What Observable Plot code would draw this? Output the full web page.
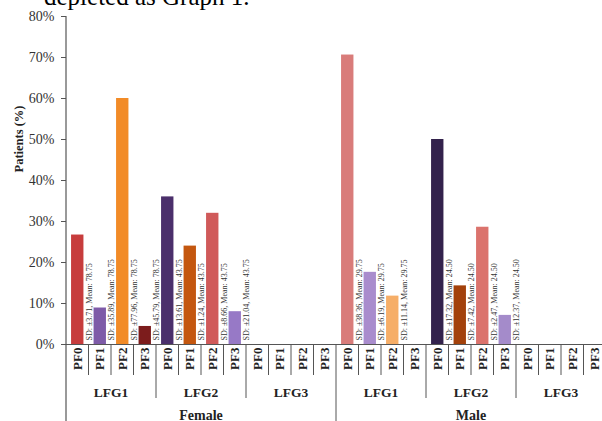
<!DOCTYPE html>
<html>
<head>
<meta charset="utf-8">
<script src="https://cdn.jsdelivr.net/npm/d3@7"></script>
<script src="https://cdn.jsdelivr.net/npm/@observablehq/plot@0.6"></script>
<style>
  html, body { margin: 0; padding: 0; background: #fff; }
  #wrap { position: relative; width: 602px; height: 421px; overflow: hidden; }
  #intro { position: absolute; left: 44px; top: -16px; font: 25px/25px "Liberation Serif", serif; color: #000; white-space: nowrap; z-index: 2; }
  #chart { position: absolute; left: 0; top: 0; }
</style>
</head>
<body>
<div id="wrap">
  <div id="intro">depleted as Graph 1.</div>
  <div id="chart"></div>
</div>
<script>
const genders = ["Female", "Male"];
const lfgs = ["LFG1", "LFG2", "LFG3"];
const pfs = ["PF0", "PF1", "PF2", "PF3"];
const yTicks = [0, 10, 20, 30, 40, 50, 60, 70, 80];

// values (%) in order LFG1 PF0..PF3, LFG2 PF0..PF3, LFG3 PF0..PF3
const femaleValues = [26.7, 8.9, 60.0, 4.4, 36.0, 24.0, 32.0, 8.0, 0, 0, 0, 0];
const maleValues = [70.6, 17.6, 11.8, 0, 50.0, 14.3, 28.6, 7.1, 0, 0, 0, 0];

const femaleColors = ["#c73c3c", "#7e5ba8", "#f28b27", "#7c1c1c", "#4b2f6b", "#c4570f", "#d05a5a", "#9779c6", "#999", "#999", "#999", "#999"];
const maleColors = ["#d97c7a", "#a98ccd", "#f6ae68", "#999", "#33224c", "#a3410b", "#db736d", "#a48bca", "#999", "#999", "#999", "#999"];

const femaleLabels = [
  "SD: ±3.71, Mean: 78.75", "SD: ±35.89, Mean: 78.75", "SD: ±77.96, Mean: 78.75", "SD: ±45.79, Mean: 78.75",
  "SD: ±13.61, Mean: 43.75", "SD: ±1.24, Mean: 43.75", "SD: ±8.66, Mean: 43.75", "SD: ±21.04, Mean: 43.75",
  "", "", "", ""
];
const maleLabels = [
  "SD: ±38.36, Mean: 29.75", "SD: ±6.19, Mean: 29.75", "SD: ±11.14, Mean: 29.75", "",
  "SD: ±17.32, Mean: 24.50", "SD: ±7.42, Mean: 24.50", "SD: ±2.47, Mean: 24.50", "SD: ±12.37, Mean: 24.50",
  "", "", "", ""
];

const valuesBy = {Female: femaleValues, Male: maleValues};
const colorsBy = {Female: femaleColors, Male: maleColors};
const labelsBy = {Female: femaleLabels, Male: maleLabels};

const rows = [];
genders.forEach(g => lfgs.forEach((l, li) => pfs.forEach((p, pi) => {
  const i = li * 4 + pi;
  rows.push({key: `${g}|${l}|${p}`, gender: g, lfg: l, pf: p,
    value: valuesBy[g][i], color: colorsBy[g][i], label: labelsBy[g][i]});
})));
const keys = rows.map(d => d.key);

const font = "Liberation Serif, Times New Roman, serif";
const lineColor = "#555";

// table below the axis: separators + group labels, positioned from the x scale
function table(index, scales, values, dimensions) {
  const x = scales.x, y = scales.y;
  const step = x(keys[1]) - x(keys[0]);
  const bw = x.bandwidth ? x.bandwidth() : step * 0.55;
  const y0 = y(0);
  const H = dimensions.height;
  const g = d3.create("svg:g");
  const left = k => x(k) - (step - bw) / 2;
  // y axis line extended to bottom
  const ax = dimensions.marginLeft;
  g.append("line").attr("x1", ax).attr("x2", ax)
    .attr("y1", y(80)).attr("y2", H).attr("stroke", lineColor).attr("stroke-width", 1.2);
  rows.forEach((d, i) => {
    if (i === 0) return;
    let len;
    if (d.pf !== "PF0") len = 31;
    else if (d.lfg !== "LFG1") len = 54;
    else len = H - y0;
    const xx = left(d.key);
    g.append("line").attr("x1", xx).attr("x2", xx).attr("y1", y0).attr("y2", y0 + len)
      .attr("stroke", lineColor).attr("stroke-width", 1);
  });
  // LFG labels
  genders.forEach(gen => {
    lfgs.forEach(l => {
      const k1 = `${gen}|${l}|PF0`, k2 = `${gen}|${l}|PF3`;
      const cx = (left(k1) + left(k2) + step) / 2;
      g.append("text").attr("x", cx).attr("y", y0 + 53).attr("text-anchor", "middle")
        .attr("font-family", font).attr("font-weight", "bold").attr("font-size", 13.5)
        .attr("fill", "#222").text(l);
    });
    const k1 = `${gen}|LFG1|PF0`, k2 = `${gen}|LFG3|PF3`;
    const cx = (left(k1) + left(k2) + step) / 2;
    g.append("text").attr("x", cx).attr("y", H - 1.5).attr("text-anchor", "middle")
      .attr("font-family", font).attr("font-weight", "bold").attr("font-size", 14)
      .attr("fill", "#222").text(gen);
  });
  return g.node();
}

const chart = Plot.plot({
  width: 602,
  height: 421,
  marginTop: 16,
  marginBottom: 77,
  marginLeft: 66,
  marginRight: 0,
  style: {fontFamily: font, background: "transparent", color: "#333", overflow: "visible"},
  x: {domain: keys, range: [66, 606], paddingInner: 0.45, paddingOuter: 0.225, round: false, axis: null},
  y: {domain: [0, 80], axis: null},
  marks: [
    Plot.barY(rows, {x: "key", y: "value", fill: "color"}),
    Plot.text(rows.filter(d => d.label), {
      x: "key", y: 0, text: "label", rotate: -90, textAnchor: "start",
      dx: 11.5, dy: -4, fontSize: 8, fill: "#333", fontFamily: font
    }),
    Plot.ruleY([0], {stroke: lineColor, strokeWidth: 1.2}),
    Plot.axisY({ticks: yTicks, tickFormat: d => d + "%", tickSize: 5, tickPadding: 7,
      fontSize: 14, label: null, stroke: lineColor}),
    Plot.axisX({domain: keys, tickFormat: k => k.split("|")[2], tickRotate: -90, tickSize: 0,
      tickPadding: 3, fontSize: 13, fontWeight: "bold", label: null, fill: "#222"}),
    Plot.text(["Patients (%)"], {frameAnchor: "left", rotate: -90, dx: -48, dy: -8,
      fontSize: 12.5, fontWeight: "bold", fill: "#222", fontFamily: font}),
    table
  ]
});
document.getElementById("chart").appendChild(chart);
</script>
</body>
</html>
